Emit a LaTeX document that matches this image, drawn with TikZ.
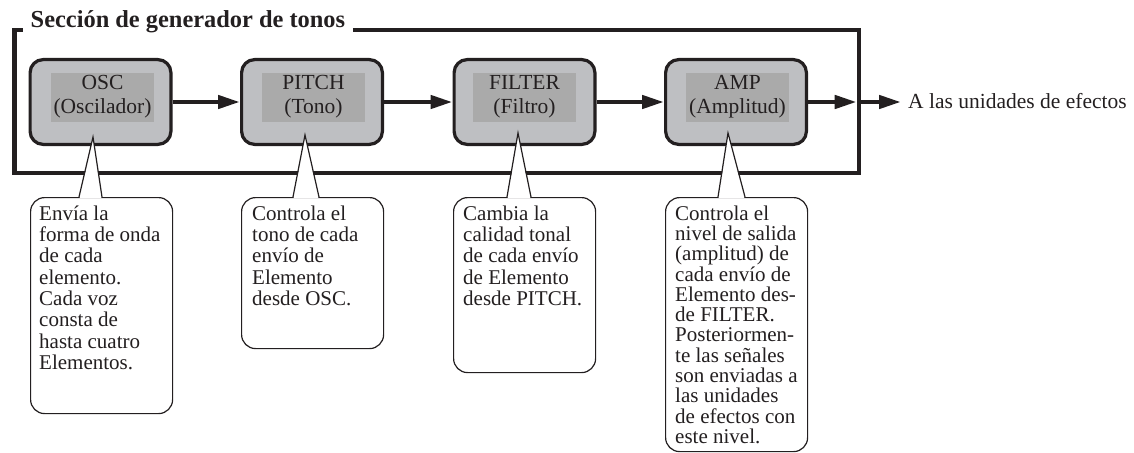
\documentclass[tikz,border=0pt]{standalone}
\usepackage{fontspec}
\setmainfont{Liberation Serif}
\usetikzlibrary{arrows.meta,calc}
\definecolor{ink}{HTML}{231F20}
\definecolor{boxgray}{HTML}{BEBFC2}
\definecolor{innergray}{HTML}{AAAAAA}
\begin{document}
\begin{tikzpicture}[x=1pt,y=-1pt,
  frameline/.style={draw=ink,line width=4.6pt},
  genbox/.style={draw=ink,fill=boxgray,line width=3.2pt,rounded corners=13pt,
    minimum width=140.8pt,minimum height=84.8pt,inner sep=0pt},
  innerbox/.style={fill=innergray,minimum width=103pt,minimum height=49pt,inner sep=0pt},
  boxlabel/.style={font=\fontsize{21.5}{24.5}\selectfont,align=center,inner sep=0pt,text=ink},
  flow/.style={draw=ink,line width=4.5pt,-{Triangle[length=22pt,width=13pt]}},
  callout/.style={draw=ink,fill=white,line width=1.2pt,rounded corners=14pt,inner sep=0pt},
  callouttext/.style={font=\fontsize{21}{21.3}\selectfont,align=left,inner sep=0pt,anchor=north west,text=ink},
  pointer/.style={draw=ink,line width=1.2pt,line join=miter},
]
\useasboundingbox (0,0) rectangle (1134,452);

% frame and title
\node[font=\bfseries\fontsize{24.4}{27}\selectfont,anchor=base west,inner xsep=7.5pt,inner ysep=0pt,text=ink] (title) at (23,27.3) {Sección de generador de tonos};
\coordinate (ftop) at (0,30);
\coordinate (fne) at (859,30);
\coordinate (fse) at (859,173);
\coordinate (fsw) at (14.5,173);
\coordinate (fnw) at (14.5,30);
\draw[frameline,line join=miter] (title.east |- ftop) -- (fne) -- (fse) -- (fsw) -- (fnw) -- (title.west |- ftop);

% tone generator blocks
\node[genbox] (osc) at (100.5,102) {};
\node[genbox] (pitch) at (312,102) {};
\node[genbox] (filter) at (524.5,102) {};
\node[genbox] (amp) at (736,102) {};

\node[innerbox] (osci) at ($(osc.center)+(2,-4.5)$) {};
\node[innerbox] (pitchi) at ($(pitch.center)+(1.5,-4.5)$) {};
\node[innerbox] (filteri) at ($(filter.center)+(0,-4.5)$) {};
\node[innerbox] (ampi) at ($(amp.center)+(1.5,-4.5)$) {};

\node[boxlabel] (osct) at ($(osci.center)+(0,-1)$) {OSC\\(Oscilador)};
\node[boxlabel] (pitcht) at ($(pitchi.center)+(0,-1)$) {PITCH\\(Tono)};
\node[boxlabel] (filtert) at ($(filteri.center)+(0,-1)$) {FILTER\\(Filtro)};
\node[boxlabel] (ampt) at ($(ampi.center)+(0,-1)$) {AMP\\(Amplitud)};

% signal flow
\coordinate (fin) at (856.7,102);
\coordinate (fout) at (859,102);
\node[font=\fontsize{21.5}{24}\selectfont,anchor=base west,inner xsep=7pt,inner ysep=0pt,text=ink] (dest) at (901,108.5) {A las unidades de efectos};
\draw[flow] (osc.east) -- (pitch.west);
\draw[flow] (pitch.east) -- (filter.west);
\draw[flow] (filter.east) -- (amp.west);
\draw[flow] (amp.east) -- (fin);
\draw[flow] (fout) -- (fout -| dest.west);

% callouts
\node[callout,anchor=north west,minimum width=142pt,minimum height=216pt] (c1) at (30,197) {};
\node[callout,anchor=north west,minimum width=142pt,minimum height=151pt] (c2) at (241,197) {};
\node[callout,anchor=north west,minimum width=142pt,minimum height=175pt] (c3) at (453,197) {};
\node[callout,anchor=north west,minimum width=142pt,minimum height=254pt] (c4) at (665,197) {};

\node[callouttext] (t1) at (39,205.4) {Envía la\\forma de onda\\de cada\\elemento.\\Cada voz\\consta de\\hasta cuatro\\Elementos.};
\node[callouttext] (t2) at (252,205.4) {Controla el\\tono de cada\\envío de\\Elemento\\desde OSC.};
\node[callouttext] (t3) at (463,205.4) {Cambia la\\calidad tonal\\de cada envío\\de Elemento\\desde PITCH.};
\node[callouttext,font=\fontsize{21}{20.3}\selectfont] (t4) at (675,205.4) {Controla el\\nivel de salida\\(amplitud) de\\cada envío de\\Elemento des-\\de FILTER.\\Posteriormen-\\te las señales\\son enviadas a\\las unidades\\de efectos con\\este nivel.};

% pointers
\coordinate (a1) at (93,137);   \coordinate (l1) at (79,197);  \coordinate (r1) at (102,197);
\coordinate (a2) at (305,135);  \coordinate (l2) at (293,197); \coordinate (r2) at (319,197);
\coordinate (a3) at (518,133);  \coordinate (l3) at (507,197); \coordinate (r3) at (531,197);
\coordinate (a4) at (728,133);  \coordinate (l4) at (718,197); \coordinate (r4) at (745,197);
\foreach \i in {1,2,3,4}{
  \fill[white] ($(l\i)+(0.6,1.2)$) -- (a\i) -- ($(r\i)+(-0.6,1.2)$) -- cycle;
  \draw[pointer] (l\i) -- (a\i) -- (r\i);
}
\end{tikzpicture}
\end{document}
